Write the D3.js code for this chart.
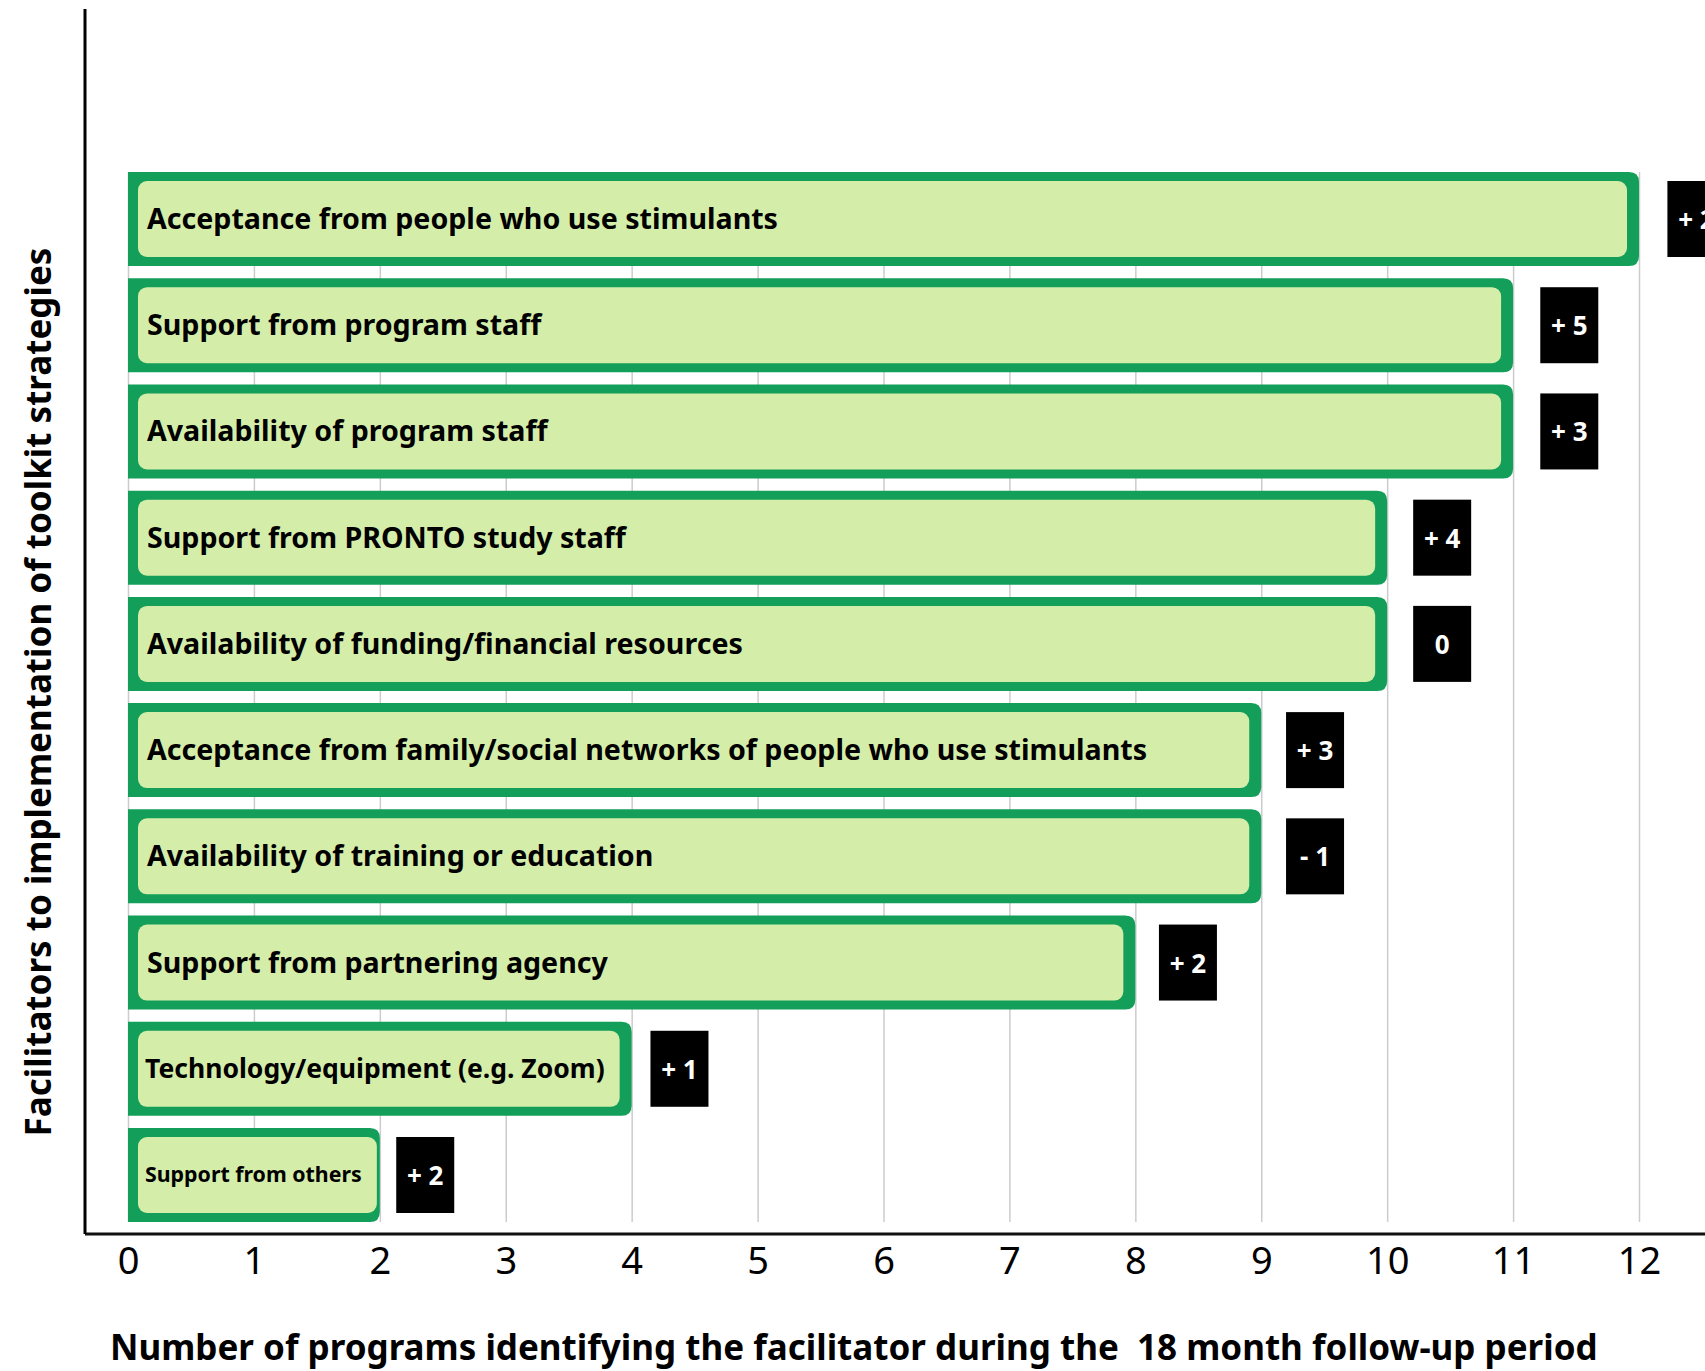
<!DOCTYPE html>
<html>
<head>
<meta charset="utf-8">
<script src="https://cdn.jsdelivr.net/npm/d3@7"></script>
<style>
body { margin:0; background:#fff; }
text { font-family:"Noto Sans", sans-serif; }
</style>
</head>
<body>
<div id="chart"></div>
<script>
var width=1705;
var height=1371;

// facilitators, top to bottom
var categories=["Acceptance from people who use stimulants","Support from program staff","Availability of program staff","Support from PRONTO study staff","Availability of funding/financial resources","Acceptance from family/social networks of people who use stimulants","Availability of training or education","Support from partnering agency","Technology/equipment (e.g. Zoom)","Support from others"];
var counts=[12,11,11,10,10,9,9,8,4,2];
var changes=[2,5,3,4,0,3,-1,2,1,2];
var ticks=[0,1,2,3,4,5,6,7,8,9,10,11,12];

var green="#139e5a";
var light="#d4eeaa";
var labelSize=28.6;

var svg=d3.select("#chart").append("svg").attr("width",width).attr("height",height);

var x=d3.scaleLinear().domain([0,12]).range([128,1639]);
var y=d3.scaleBand().domain(categories).range([172,1222]).paddingInner(0.115).paddingOuter(0);

// gridlines
svg.append("g").attr("transform","translate(0,1222)")
	.call(d3.axisBottom(x).tickValues(ticks).tickSize(-1050).tickFormat(""))
	.call(function(g){ g.select(".domain").remove(); g.selectAll("line").attr("stroke","#cccccc").attr("stroke-width",1.5); });

// tick labels
svg.append("g").attr("transform","translate(0,1237)")
	.call(d3.axisBottom(x).tickValues(ticks).tickSize(0).tickPadding(0).tickFormat(d3.format("d")))
	.call(function(g){ g.select(".domain").remove(); })
	.selectAll("text").attr("dy",null).attr("y",37).attr("font-size",38).attr("font-weight",400)
	.attr("font-family","Roboto, sans-serif").attr("fill","#000");

// axis lines
svg.append("line").attr("x1",85).attr("x2",width).attr("y1",1234).attr("y2",1234).attr("stroke","#111").attr("stroke-width",3);
svg.append("line").attr("x1",85).attr("x2",85).attr("y1",9).attr("y2",1234).attr("stroke","#000").attr("stroke-width",3);

function rightRounded(x0,y0,w,h,r) { //square left, rounded right
	return "M"+x0+","+y0+"H"+(x0+w-r)+"Q"+(x0+w)+","+y0+" "+(x0+w)+","+(y0+r)+"V"+(y0+h-r)
		+"Q"+(x0+w)+","+(y0+h)+" "+(x0+w-r)+","+(y0+h)+"H"+x0+"Z";
}

var bw=y.bandwidth();
categories.forEach(function(c,i) {
	var top=y(c);
	var right=x(counts[i]);
	svg.append("path").attr("d",rightRounded(x(0),top,right-x(0),bw,10)).attr("fill",green);
	var inset=(right-x(0))<300 ? 3 : 12; //narrow bar has thin right edge
	var ix=x(0)+10, iw=right-inset-ix;
	svg.append("rect").attr("x",ix).attr("y",top+9).attr("width",iw).attr("height",bw-18).attr("rx",9).attr("fill",light);
	var t=svg.append("text").attr("x",ix+9).attr("font-size",labelSize).attr("font-weight",700).attr("fill","#000").text(c);
	var avail=iw-22;
	var len=t.node().getComputedTextLength();
	var fs=len>avail ? labelSize*avail/len : labelSize;
	t.attr("font-size",fs).attr("y",top+bw/2+0.35*fs);
	if (fs<labelSize) t.attr("x",ix+7);

	// change box
	var bx=right+14+1.2*counts[i];
	var cy=top+bw/2;
	svg.append("rect").attr("x",bx).attr("y",cy-38).attr("width",58).attr("height",76).attr("fill","#000");
	var lab=changes[i]>0 ? "+ "+changes[i] : (changes[i]<0 ? "- "+Math.abs(changes[i]) : "0");
	svg.append("text").attr("x",bx+29).attr("y",cy+10).attr("text-anchor","middle").attr("font-size",26).attr("font-weight",700)
		.attr("fill","#fff").text(lab);
});

// axis titles
svg.append("text").attr("x",110).attr("y",1360).attr("font-size",35).attr("font-weight",700).style("white-space","pre")
	.text("Number of programs identifying the facilitator during the  18 month follow-up period");
svg.append("text").attr("transform","translate(51,692) rotate(-90)").attr("text-anchor","middle").attr("font-size",35).attr("font-weight",700)
	.text("Facilitators to implementation of toolkit strategies");
</script>
</body>
</html>
